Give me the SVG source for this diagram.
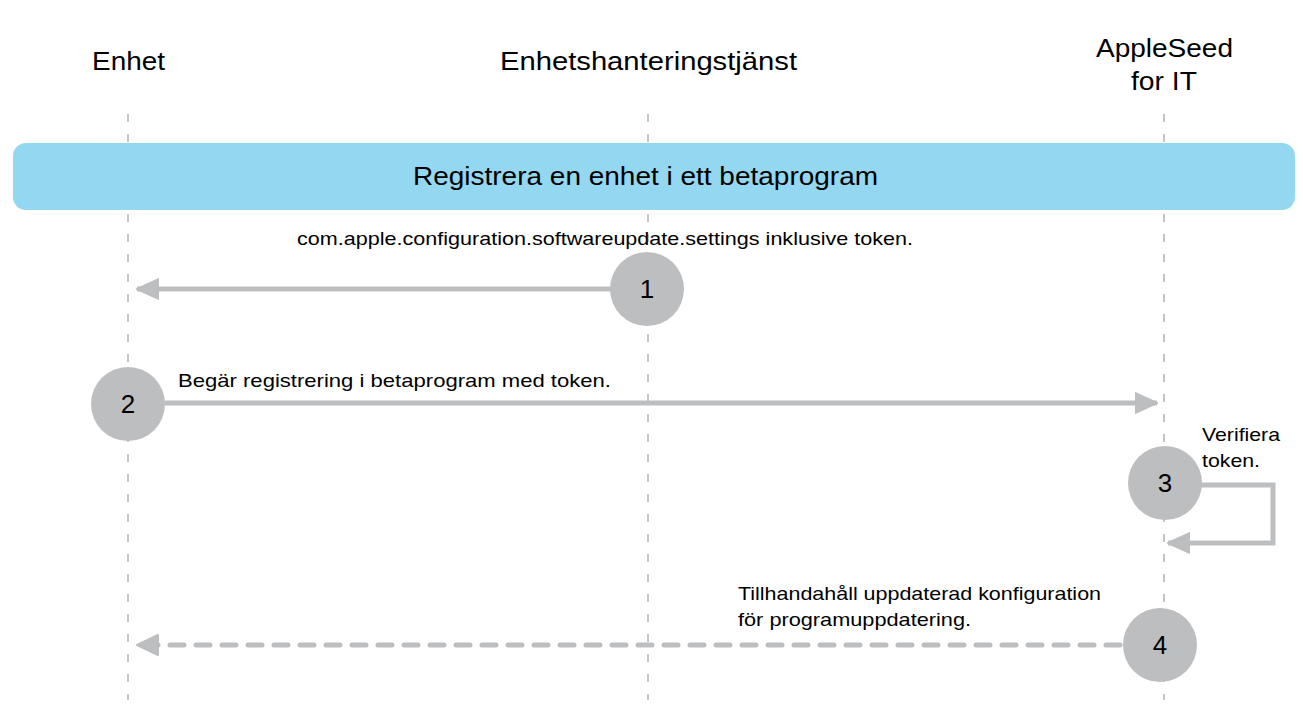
<svg xmlns="http://www.w3.org/2000/svg" width="1303" height="708" viewBox="0 0 1303 708">
<defs>
<style>
.life{stroke:#b3b3b3;stroke-width:1.5;stroke-dasharray:8 12;fill:none}
.hdr{font-family:"Liberation Sans",Arial,sans-serif;font-size:25px;fill:#000;text-anchor:middle}
.lbl{font-family:"Liberation Sans",Arial,sans-serif;font-size:18.5px;fill:#000}
.num{font-family:"Liberation Sans",Arial,sans-serif;font-size:26px;fill:#000;text-anchor:middle}
.step{fill:#bcbec0}
.conn{stroke:#bcbec0;stroke-width:5;fill:none}
.dash{stroke-dasharray:14 12;stroke-linecap:round}
</style>
<marker id="ah" markerWidth="24" markerHeight="22" refX="22" refY="11" orient="auto" markerUnits="userSpaceOnUse">
<path d="M0,1 L22,11 L0,21 Z" fill="#bcbec0" stroke="#bcbec0" stroke-width="2" stroke-linejoin="round"/>
</marker>
</defs>
<rect width="1303" height="708" fill="#fff"/>
<g id="lifelines">
<line class="life" x1="128" y1="114" x2="128" y2="700"/>
<line class="life" x1="648" y1="114" x2="648" y2="700"/>
<line class="life" x1="1164" y1="114" x2="1164" y2="700"/>
</g>
<g id="actor-enhet"><text class="hdr" x="128.5" y="70" textLength="73" lengthAdjust="spacingAndGlyphs">Enhet</text></g>
<g id="actor-mdm"><text class="hdr" x="648.5" y="70" textLength="297" lengthAdjust="spacingAndGlyphs">Enhetshanteringstjänst</text></g>
<g id="actor-appleseed"><text class="hdr" x="1164.5" y="57" textLength="137" lengthAdjust="spacingAndGlyphs">AppleSeed</text><text class="hdr" x="1164" y="90" textLength="66" lengthAdjust="spacingAndGlyphs">for IT</text></g>
<g id="band">
<rect x="13" y="143" width="1282" height="67" rx="13" fill="#94d7f0"/>
<text class="hdr" x="645.5" y="185" textLength="465" lengthAdjust="spacingAndGlyphs">Registrera en enhet i ett betaprogram</text>
</g>
<g id="connectors">
<line class="conn" x1="612" y1="289" x2="137" y2="289" marker-end="url(#ah)"/>
<line class="conn" x1="165" y1="403" x2="1157" y2="403" marker-end="url(#ah)"/>
<polyline class="conn" points="1200,485 1273,485 1273,543 1168,543" marker-end="url(#ah)"/>
<line class="conn dash" x1="1120" y1="645" x2="140" y2="645"/>
<path d="M137,645 L158,635 L158,655 Z" fill="#bcbec0" stroke="#bcbec0" stroke-width="2" stroke-linejoin="round"/>
</g>
<g id="step1">
<circle class="step" cx="647" cy="289" r="37"/>
<text class="num" x="647" y="298">1</text>
<text class="lbl" x="297" y="245" textLength="616" lengthAdjust="spacingAndGlyphs">com.apple.configuration.softwareupdate.settings inklusive token.</text>
</g>
<g id="step2">
<circle class="step" cx="128" cy="404" r="37"/>
<text class="num" x="128" y="413">2</text>
<text class="lbl" x="178" y="387" textLength="433" lengthAdjust="spacingAndGlyphs">Begär registrering i betaprogram med token.</text>
</g>
<g id="step3">
<circle class="step" cx="1165" cy="483" r="37"/>
<text class="num" x="1165" y="492">3</text>
<text class="lbl" x="1202" y="441" textLength="78" lengthAdjust="spacingAndGlyphs">Verifiera</text>
<text class="lbl" x="1202" y="467" textLength="58" lengthAdjust="spacingAndGlyphs">token.</text>
</g>
<g id="step4">
<circle class="step" cx="1160" cy="645" r="37"/>
<text class="num" x="1160" y="654">4</text>
<text class="lbl" x="738" y="600" textLength="363" lengthAdjust="spacingAndGlyphs">Tillhandahåll uppdaterad konfiguration</text>
<text class="lbl" x="738" y="626" textLength="233" lengthAdjust="spacingAndGlyphs">för programuppdatering.</text>
</g>
</svg>
